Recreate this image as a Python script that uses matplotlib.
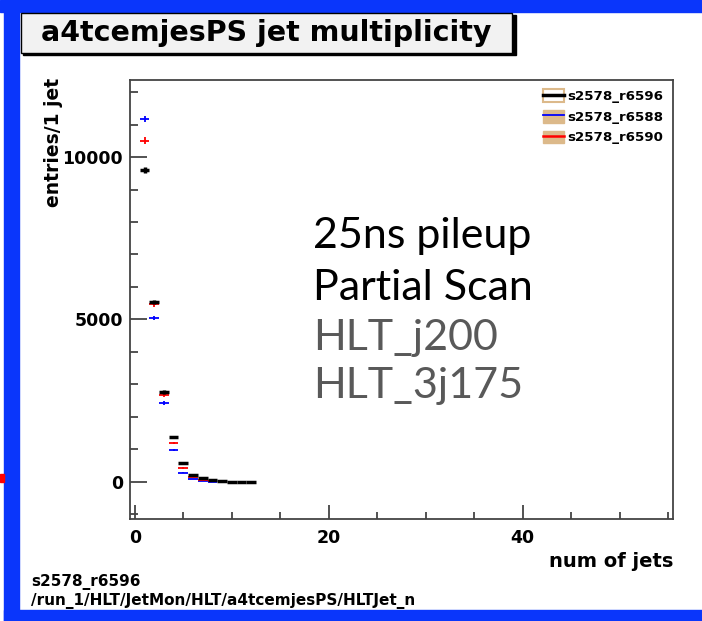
import numpy as np
import matplotlib
matplotlib.use('Agg')
import matplotlib.pyplot as plt
from matplotlib.patches import Rectangle, Patch
from matplotlib.lines import Line2D
from matplotlib.legend_handler import HandlerTuple
from matplotlib.ticker import MultipleLocator

# entries per jet multiplicity bin
n_jets = np.arange(1, 13)
r6596 = np.array([9600, 5540, 2770, 1380, 580, 215, 110, 50, 20, 8, 3, 1])
n_jets_short = np.arange(1, 9)
r6588 = np.array([11170, 5050, 2430, 985, 280, 90, 30, 10])
r6590 = np.array([10500, 5470, 2680, 1200, 430, 150, 60, 25])

labels = ['s2578_r6596', 's2578_r6588', 's2578_r6590']
notes = ['25ns pileup', 'Partial Scan', 'HLT_j200', 'HLT_3j175']
note_colors = ['black', 'black', '#595959', '#595959']
note_base = [248, 300, 350, 398]

plt.rcParams['font.family'] = 'DejaVu Sans'
plt.rcParams['font.weight'] = 'bold'

W, H = 702, 621
fig = plt.figure(figsize=(W / 100, H / 100), dpi=100)


def fx(px):
    return px / W


def fy(py):
    return 1 - py / H


blue = '#0a36fb'
tan = '#dcb98a'
# slide border
fig.patches.append(Rectangle((0, fy(12)), 1, 12 / H, transform=fig.transFigure,
                             color=blue, zorder=0))
fig.patches.append(Rectangle((fx(4), 0), fx(15), 1, transform=fig.transFigure,
                             color=blue, zorder=0))
fig.patches.append(Rectangle((fx(4), 0), 1, 11 / H, transform=fig.transFigure,
                             color=blue, zorder=0))
fig.patches.append(Rectangle((0, fy(482)), fx(4), 8 / H, transform=fig.transFigure,
                             color='red', zorder=0))

# title box with shadow
fig.patches.append(Rectangle((fx(23), fy(55)), fx(493), 40 / H, transform=fig.transFigure,
                             color='black', zorder=1))
fig.patches.append(Rectangle((fx(21), fy(53)), fx(491), 40 / H, transform=fig.transFigure,
                             fc='#f2f2f2', ec='black', lw=1, zorder=2))
fig.text(fx(266), fy(33), 'a4tcemjesPS jet multiplicity', ha='center', va='center',
         fontsize=20.5, fontweight='bold', zorder=3)

ax = fig.add_axes([fx(130), fy(519), fx(673) - fx(130), (519 - 80) / H])
ax.errorbar(n_jets_short, r6588, xerr=0.5, yerr=np.sqrt(r6588), fmt='none',
            ecolor='blue', elinewidth=1.3)
ax.errorbar(n_jets_short, r6590, xerr=0.5, yerr=np.sqrt(r6590), fmt='none',
            ecolor='red', elinewidth=1.3)
ax.errorbar(n_jets, r6596, xerr=0.5, yerr=np.sqrt(r6596), fmt='none',
            ecolor='black', elinewidth=2.5)

ax.set_xlim(-0.5, 55.5)
ax.set_ylim(-1140, 12370)
ax.xaxis.set_major_locator(MultipleLocator(20))
ax.xaxis.set_minor_locator(MultipleLocator(5))
ax.yaxis.set_major_locator(MultipleLocator(5000))
ax.yaxis.set_minor_locator(MultipleLocator(1000))
ax.tick_params(which='both', direction='in', color='#444444', width=1.3,
               labelsize=12.5, top=False, right=False)
ax.tick_params(axis='y', which='major', length=12, pad=5)
ax.tick_params(axis='y', which='minor', length=6)
ax.tick_params(axis='x', which='major', length=10, pad=7)
ax.tick_params(axis='x', which='minor', length=5)
for s in ax.spines.values():
    s.set_color('#444444')
    s.set_linewidth(1.3)

ax.text(1.0, -0.075, 'num of jets', transform=ax.transAxes, ha='right', va='top',
        fontsize=14, fontweight='bold')
ax.text(-0.14, 1.005, 'entries/1 jet', transform=ax.transAxes, ha='center', va='top',
        rotation=90, fontsize=13.5, fontweight='bold')

handles = [(Patch(fc='white', ec=tan, lw=1.5), Line2D([], [], color='black', lw=2.5)),
           (Patch(fc=tan, ec=tan), Line2D([], [], color='blue', lw=1.3)),
           (Patch(fc=tan, ec=tan), Line2D([], [], color='red', lw=1.8))]
ax.legend(handles, labels, handler_map={tuple: HandlerTuple(ndivide=1, pad=0)},
          loc='upper right', bbox_to_anchor=(1.0, 1.0), frameon=False,
          prop={'size': 9.6, 'weight': 'bold'}, handlelength=1.6, handleheight=1.1,
          handletextpad=0.25, labelspacing=0.5, borderaxespad=0.3)

for txt, c, b in zip(notes, note_colors, note_base):
    fig.text(fx(313), fy(b), txt, ha='left', va='baseline', color=c,
             fontsize=31, fontweight='normal', family='Lato')

fig.text(fx(31), fy(586), 's2578_r6596', fontsize=11, fontweight='bold', va='baseline')
fig.text(fx(31), fy(605), '/run_1/HLT/JetMon/HLT/a4tcemjesPS/HLTJet_n', fontsize=11,
         fontweight='bold', va='baseline')

fig.savefig('out.png', dpi=100, facecolor='white')
